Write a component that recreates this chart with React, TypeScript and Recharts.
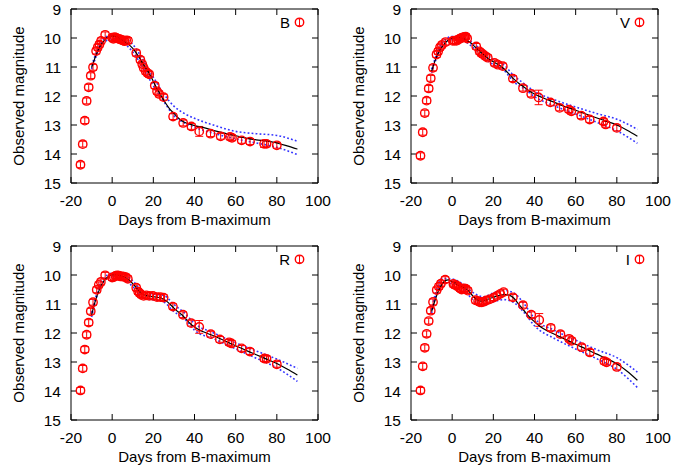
import React from 'react';
import { ComposedChart, Line, Scatter, XAxis, YAxis, ErrorBar, Legend } from 'recharts';

const FONT = '"Liberation Sans", Arial, Helvetica, sans-serif';
const X_TICKS = [-20, 0, 20, 40, 60, 80, 100];
const Y_TICKS = [9, 10, 11, 12, 13, 14, 15];
const X_LABEL = 'Days from B-maximum';
const Y_LABEL = 'Observed magnitude';

// observations: [day, magnitude, error]
const B_OBS = [
  [-15.4, 14.37, 0.1], [-14.3, 13.66, 0.1], [-13.3, 12.85, 0.1], [-12.4, 12.17, 0.1], [-11.4, 11.7, 0.1],
  [-10.4, 11.3, 0.1], [-9.3, 11.01, 0.1], [-7.8, 10.45, 0.1], [-7.0, 10.32, 0.1], [-6.2, 10.22, 0.1],
  [-5.4, 10.1, 0.1], [-3.4, 9.89, 0.1], [0.0, 9.99, 0.1], [0.6, 10.03, 0.1], [1.3, 9.97, 0.1],
  [2.0, 10.0, 0.1], [2.8, 10.02, 0.1], [3.6, 10.04, 0.1], [4.4, 10.06, 0.1], [5.2, 10.08, 0.1],
  [6.0, 10.11, 0.1], [6.8, 10.08, 0.1], [7.7, 10.09, 0.1], [11.7, 10.52, 0.1], [13.7, 10.75, 0.1],
  [14.6, 10.9, 0.1], [15.3, 11.03, 0.1], [16.3, 11.15, 0.1], [17.3, 11.22, 0.1], [18.0, 11.25, 0.1],
  [20.7, 11.64, 0.1], [21.8, 11.84, 0.1], [22.8, 11.93, 0.1], [25.0, 12.04, 0.1], [29.6, 12.71, 0.1],
  [34.5, 12.93, 0.1], [38.5, 13.05, 0.1], [42.3, 13.22, 0.17], [47.8, 13.3, 0.1], [52.7, 13.39, 0.1],
  [57.2, 13.41, 0.1], [58.2, 13.44, 0.1], [62.9, 13.53, 0.1], [67.0, 13.57, 0.1], [73.8, 13.65, 0.12],
  [75.0, 13.65, 0.1], [80.0, 13.7, 0.1],
];
const V_OBS = [
  [-15.4, 14.06, 0.1], [-14.3, 13.25, 0.1], [-13.3, 12.59, 0.1], [-12.4, 12.16, 0.1], [-11.4, 11.74, 0.1],
  [-10.4, 11.39, 0.1], [-9.3, 11.03, 0.1], [-7.6, 10.57, 0.1], [-6.8, 10.46, 0.1], [-5.9, 10.32, 0.1],
  [-5.0, 10.24, 0.1], [-3.2, 10.14, 0.1], [0.3, 10.1, 0.1], [1.1, 10.09, 0.1], [2.0, 10.1, 0.1],
  [2.8, 10.06, 0.1], [3.6, 10.03, 0.1], [4.4, 10.0, 0.1], [5.2, 9.98, 0.1], [6.0, 9.96, 0.1],
  [6.6, 9.95, 0.1], [7.3, 10.02, 0.1], [11.7, 10.29, 0.1], [13.3, 10.46, 0.1], [14.1, 10.52, 0.1],
  [14.9, 10.56, 0.1], [16.2, 10.63, 0.1], [17.3, 10.68, 0.1], [20.6, 10.86, 0.1], [22.2, 10.92, 0.1],
  [24.6, 10.97, 0.1], [29.5, 11.4, 0.1], [34.4, 11.73, 0.1], [38.4, 11.93, 0.1], [42.0, 12.05, 0.25],
  [47.7, 12.22, 0.1], [52.2, 12.41, 0.1], [56.7, 12.47, 0.1], [57.9, 12.53, 0.1], [62.7, 12.68, 0.1],
  [66.8, 12.81, 0.1], [73.5, 12.88, 0.1], [74.6, 12.98, 0.1], [80.0, 13.1, 0.1],
];
const R_OBS = [
  [-15.4, 13.98, 0.1], [-14.3, 13.22, 0.1], [-13.3, 12.57, 0.1], [-12.4, 12.06, 0.1], [-11.4, 11.64, 0.1],
  [-10.4, 11.25, 0.1], [-9.3, 10.94, 0.1], [-7.5, 10.51, 0.1], [-6.5, 10.34, 0.1], [-5.5, 10.24, 0.1],
  [-3.4, 10.01, 0.1], [0.0, 10.09, 0.1], [0.8, 10.07, 0.1], [1.6, 10.03, 0.1], [2.4, 10.01, 0.1],
  [3.2, 10.02, 0.1], [4.0, 10.05, 0.1], [4.8, 10.05, 0.1], [5.7, 10.06, 0.1], [6.6, 10.07, 0.1],
  [7.6, 10.13, 0.1], [11.7, 10.44, 0.1], [12.6, 10.57, 0.1], [13.4, 10.63, 0.1], [14.2, 10.68, 0.1],
  [15.3, 10.72, 0.1], [16.6, 10.7, 0.1], [18.0, 10.72, 0.1], [19.8, 10.72, 0.1], [21.8, 10.76, 0.1],
  [23.4, 10.76, 0.1], [25.0, 10.78, 0.1], [29.5, 11.09, 0.1], [34.4, 11.37, 0.1], [38.4, 11.66, 0.1],
  [42.3, 11.79, 0.22], [47.9, 12.04, 0.1], [52.3, 12.22, 0.1], [56.8, 12.32, 0.1], [58.0, 12.36, 0.1],
  [62.9, 12.53, 0.1], [66.9, 12.64, 0.1], [73.9, 12.88, 0.1], [75.0, 12.89, 0.1], [80.0, 13.08, 0.1],
];
const I_OBS = [
  [-15.4, 13.98, 0.1], [-14.3, 13.15, 0.1], [-13.3, 12.51, 0.1], [-12.4, 12.03, 0.1], [-11.4, 11.59, 0.1],
  [-10.4, 11.23, 0.1], [-9.3, 10.93, 0.1], [-7.5, 10.52, 0.1], [-6.5, 10.4, 0.1], [-5.5, 10.3, 0.1],
  [-3.4, 10.16, 0.1], [0.6, 10.31, 0.1], [1.4, 10.35, 0.1], [2.2, 10.36, 0.1], [3.0, 10.41, 0.1],
  [3.8, 10.46, 0.1], [4.6, 10.5, 0.1], [5.6, 10.46, 0.1], [6.6, 10.47, 0.1], [7.6, 10.54, 0.1],
  [11.4, 10.87, 0.1], [12.6, 10.9, 0.1], [13.5, 10.94, 0.1], [14.4, 10.94, 0.1], [15.3, 10.92, 0.1],
  [16.6, 10.88, 0.1], [18.2, 10.84, 0.1], [20.2, 10.78, 0.1], [21.8, 10.72, 0.1], [23.4, 10.65, 0.1],
  [25.0, 10.59, 0.1], [29.5, 10.77, 0.1], [34.4, 11.04, 0.1], [38.4, 11.37, 0.1], [42.3, 11.55, 0.22],
  [47.9, 11.82, 0.1], [52.6, 12.04, 0.1], [56.8, 12.2, 0.1], [58.0, 12.27, 0.1], [62.9, 12.49, 0.1],
  [66.9, 12.67, 0.1], [73.9, 12.97, 0.1], [75.0, 13.01, 0.1], [80.0, 13.17, 0.1],
];

// model curve (solid black)
const MODEL_DAYS = [-10, -8, -6, -4, -2, 0, 2, 4, 6, 8, 10, 12, 14, 16, 18, 20, 22, 24, 26, 28, 30, 32, 34, 36, 38, 40,
  44, 50, 55, 60, 65, 70, 75, 80, 85, 90];
const B_MODEL = [11.02, 10.62, 10.3, 10.1, 9.96, 9.93, 9.96, 10.03, 10.12, 10.22, 10.36, 10.55, 10.77, 11.0, 11.22,
  11.5, 11.77, 12.02, 12.25, 12.45, 12.6, 12.75, 12.86, 12.93, 12.98, 13.02,
  13.08, 13.2, 13.29, 13.37, 13.45, 13.51, 13.55, 13.62, 13.72, 13.83];
const V_MODEL = [11.15, 10.72, 10.42, 10.22, 10.08, 10.01, 9.98, 9.99, 10.04, 10.11, 10.23, 10.37, 10.5, 10.62, 10.73,
  10.82, 10.9, 10.99, 11.12, 11.27, 11.42, 11.54, 11.65, 11.75, 11.85, 11.93,
  12.06, 12.23, 12.37, 12.49, 12.62, 12.75, 12.87, 13.0, 13.18, 13.39];
const R_MODEL = [11.38, 10.85, 10.47, 10.2, 10.06, 10.0, 9.99, 10.02, 10.07, 10.15, 10.3, 10.46, 10.62, 10.7, 10.73,
  10.75, 10.77, 10.8, 10.88, 11.0, 11.14, 11.27, 11.38, 11.53, 11.68, 11.79,
  11.95, 12.12, 12.28, 12.44, 12.6, 12.75, 12.9, 13.05, 13.24, 13.45];
const I_MODEL = [11.26, 10.8, 10.45, 10.23, 10.17, 10.22, 10.3, 10.37, 10.45, 10.55, 10.72, 10.85, 10.9, 10.88, 10.82,
  10.77, 10.72, 10.69, 10.68, 10.7, 10.8, 10.98, 11.15, 11.32, 11.48, 11.61,
  11.84, 12.05, 12.22, 12.39, 12.55, 12.72, 12.88, 13.06, 13.32, 13.63];

// model bounds (blue dotted)
const BOUND_DAYS = [-10, -5, 0, 5, 10, 15, 20, 25, 30, 35, 40, 50, 60, 70, 80, 90];
const B_UPPER = [10.95, 10.12, 9.88, 9.98, 10.22, 10.75, 11.35, 11.92, 12.35, 12.6, 12.77, 13.02, 13.22, 13.3, 13.36, 13.56];
const B_LOWER = [11.08, 10.24, 10.02, 10.15, 10.48, 11.03, 11.65, 12.18, 12.68, 12.92, 13.08, 13.3, 13.48, 13.62, 13.77, 14.02];
const V_UPPER = [11.08, 10.18, 9.95, 9.96, 10.17, 10.48, 10.74, 10.92, 11.3, 11.58, 11.84, 12.14, 12.38, 12.6, 12.8, 13.15];
const V_LOWER = [11.2, 10.3, 10.06, 10.08, 10.32, 10.65, 10.92, 11.1, 11.52, 11.75, 12.02, 12.35, 12.62, 12.9, 13.2, 13.63];
const R_UPPER = [11.3, 10.2, 9.94, 9.96, 10.2, 10.58, 10.66, 10.7, 11.02, 11.3, 11.67, 12.02, 12.34, 12.62, 12.9, 13.22];
const R_LOWER = [11.45, 10.3, 10.06, 10.12, 10.4, 10.78, 10.85, 10.93, 11.26, 11.5, 11.9, 12.22, 12.55, 12.87, 13.2, 13.67];
const I_UPPER = [11.2, 10.13, 10.14, 10.3, 10.6, 10.75, 10.62, 10.53, 10.62, 11.0, 11.5, 11.92, 12.25, 12.57, 12.85, 13.35];
const I_LOWER = [11.32, 10.27, 10.3, 10.46, 10.85, 11.05, 10.92, 10.85, 10.95, 11.3, 11.75, 12.2, 12.55, 12.88, 13.25, 13.88];

const PANELS = [
  { name: 'B', obs: B_OBS, model: B_MODEL, upper: B_UPPER, lower: B_LOWER, left: 0, top: 0 },
  { name: 'V', obs: V_OBS, model: V_MODEL, upper: V_UPPER, lower: V_LOWER, left: 340, top: 0 },
  { name: 'R', obs: R_OBS, model: R_MODEL, upper: R_UPPER, lower: R_LOWER, left: 0, top: 237 },
  { name: 'I', obs: I_OBS, model: I_MODEL, upper: I_UPPER, lower: I_LOWER, left: 340, top: 237 },
];

const RED = '#ff0000';
const BLUE = '#3333ff';

const renderCircle = (props: any) => {
  const { cx, cy } = props;
  if (cx == null || cy == null) return <g />;
  return <circle cx={cx} cy={cy} r={4.2} fill="none" stroke={RED} strokeWidth={1.4} />;
};

const renderYLabel = (props: any) => {
  const vb = props.viewBox || { x: 0, y: 0, width: 0, height: 0 };
  const x = vb.x + 24;
  const y = vb.y + vb.height / 2;
  return (
    <text x={x} y={y} transform={`rotate(-90, ${x}, ${y})`} textAnchor="middle" fontSize={15}
      fontFamily={FONT} fill="#000">{Y_LABEL}</text>
  );
};

const legendContent = (name: string) => () => (
  <svg width={60} height={20} style={{ display: 'block' }}>
    <text x={40} y={16} textAnchor="end" fontSize={15} fontFamily={FONT} fill="#000">{name}</text>
    <circle cx={49.5} cy={10.3} r={4.2} fill="none" stroke={RED} strokeWidth={1.4} />
    <line x1={49.5} y1={6.8} x2={49.5} y2={13.8} stroke={RED} strokeWidth={1} />
    <line x1={47.5} y1={6.8} x2={51.5} y2={6.8} stroke={RED} strokeWidth={1} />
    <line x1={47.5} y1={13.8} x2={51.5} y2={13.8} stroke={RED} strokeWidth={1} />
  </svg>
);

const tickStyle = { fontSize: 15.5, fill: '#000', fontFamily: FONT };
const emptyTick = () => <g />;

function Panel({ p }: { p: any }) {
  const obs = p.obs.map((o: number[]) => ({ x: o[0], y: o[1], err: o[2] }));
  const mid = MODEL_DAYS.map((x, i) => ({ x, y: p.model[i] }));
  const up = BOUND_DAYS.map((x, i) => ({ x, y: p.upper[i] }));
  const lo = BOUND_DAYS.map((x, i) => ({ x, y: p.lower[i] }));
  return (
    <div style={{ position: 'absolute', left: p.left, top: p.top, width: 340, height: 237 }}>
      <ComposedChart width={340} height={237} margin={{ top: 8, right: 21, bottom: 0, left: 0 }}>
        <XAxis xAxisId="b" type="number" dataKey="x" domain={[-20, 100]} allowDataOverflow ticks={X_TICKS}
          interval={0} orientation="bottom" height={54} tickSize={-6} tickMargin={18} tick={tickStyle}
          stroke="#000" label={{ value: X_LABEL, position: 'insideBottom', offset: 12, fontSize: 15, fill: '#000', fontFamily: FONT }} />
        <XAxis xAxisId="t" type="number" dataKey="x" domain={[-20, 100]} allowDataOverflow ticks={X_TICKS}
          interval={0} orientation="top" height={1} tickSize={-6} tick={emptyTick} stroke="#000" />
        <YAxis yAxisId="l" type="number" dataKey="y" domain={[9, 15]} reversed allowDataOverflow ticks={Y_TICKS}
          interval={0} width={71} tickSize={-6} tickMargin={16} tick={tickStyle} stroke="#000" label={renderYLabel} />
        <YAxis yAxisId="r" type="number" dataKey="y" domain={[9, 15]} reversed allowDataOverflow ticks={Y_TICKS}
          interval={0} orientation="right" width={1} tickSize={-6} tick={emptyTick} stroke="#000" />
        <Line xAxisId="b" yAxisId="l" data={up} dataKey="y" type="monotone" stroke={BLUE} strokeWidth={1.6}
          strokeDasharray="1.8 2.2" dot={false} activeDot={false} isAnimationActive={false} />
        <Line xAxisId="b" yAxisId="l" data={lo} dataKey="y" type="monotone" stroke={BLUE} strokeWidth={1.6}
          strokeDasharray="1.8 2.2" dot={false} activeDot={false} isAnimationActive={false} />
        <Scatter xAxisId="b" yAxisId="l" data={obs} dataKey="y" shape={renderCircle} isAnimationActive={false}>
          <ErrorBar dataKey="err" direction="y" width={4} stroke={RED} strokeWidth={1} isAnimationActive={false} />
        </Scatter>
        <Line xAxisId="b" yAxisId="l" data={mid} dataKey="y" type="monotone" stroke="#000" strokeWidth={1.2}
          dot={false} activeDot={false} isAnimationActive={false} />
        <Legend layout="horizontal" verticalAlign="middle" align="center" content={legendContent(p.name)}
          wrapperStyle={{ position: 'absolute', left: 250, top: 12, width: 60, height: 20 }} />
      </ComposedChart>
    </div>
  );
}

export default function App() {
  return (
    <div style={{ position: 'absolute', left: 0, top: 0, width: 697, height: 474, background: '#fff' }}>
      {PANELS.map((p) => <Panel key={p.name} p={p} />)}
    </div>
  );
}
